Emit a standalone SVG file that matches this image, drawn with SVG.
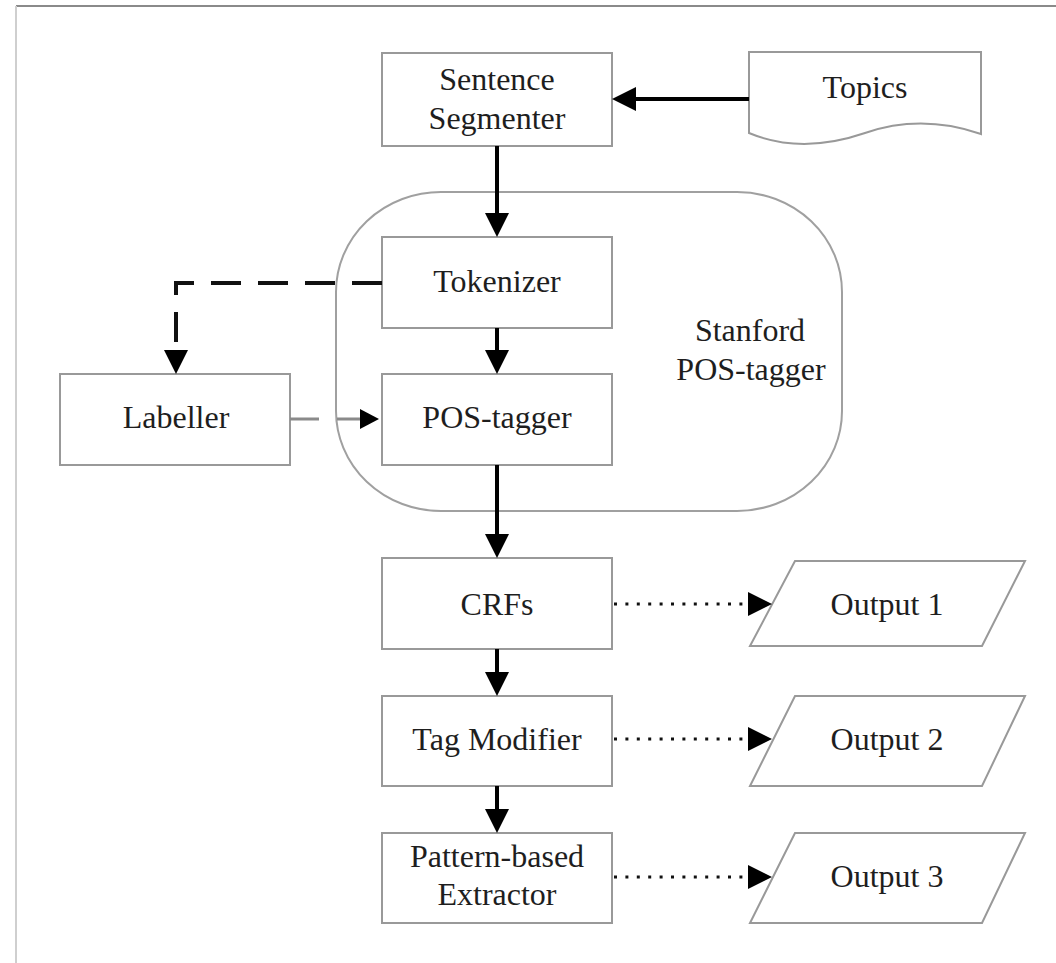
<svg xmlns="http://www.w3.org/2000/svg" width="1056" height="963" viewBox="0 0 1056 963">
<style>
.box{fill:#fff;stroke:#999;stroke-width:2}
.grp{fill:none;stroke:#a0a0a0;stroke-width:2}
.t{font-family:"Liberation Serif","Times New Roman",serif;font-size:32px;fill:#1e1e1e;text-anchor:middle}
.solid{fill:none;stroke:#000;stroke-width:4}
.dash{fill:none;stroke:#111;stroke-width:4;stroke-dasharray:30 17}
.gdash{fill:none;stroke:#8a8a8a;stroke-width:3;stroke-dasharray:29 18}
.dot{fill:none;stroke:#111;stroke-width:3;stroke-dasharray:3 8.4}
</style>
<defs>
<marker id="ah" markerUnits="userSpaceOnUse" markerWidth="26" markerHeight="24" refX="0" refY="12" orient="auto" overflow="visible">
<path d="M0,0 L24,12 L0,24 Z" fill="#000"/>
</marker>
<marker id="ahs" markerUnits="userSpaceOnUse" markerWidth="22" markerHeight="22" refX="0" refY="10" orient="auto" overflow="visible">
<path d="M0,0 L19,10 L0,20 Z" fill="#000"/>
</marker>
</defs>
<rect width="1056" height="963" fill="#fff"/>
<g id="frame">
<line x1="16" y1="6" x2="1056" y2="6" stroke="#8a8a8a" stroke-width="2"/>
<line x1="16" y1="6" x2="16" y2="963" stroke="#cfcfcf" stroke-width="2"/>
</g>
<g id="stanford">
<rect class="grp" x="336" y="192" width="506" height="319" rx="105" ry="100"/>
<text class="t" x="750" y="341">Stanford</text>
<text class="t" x="751" y="380">POS-tagger</text>
</g>
<g id="segmenter">
<rect class="box" x="382" y="53" width="230" height="93"/>
<text class="t" x="497" y="90">Sentence</text>
<text class="t" x="497" y="129">Segmenter</text>
</g>
<g id="topics">
<path class="box" d="M749,52 H981 V134 C940,120 900,121 865,133 C830,145 790,150 749,133 Z"/>
<text class="t" x="865" y="98">Topics</text>
</g>
<g id="tokenizer">
<rect class="box" x="382" y="237" width="230" height="91"/>
<text class="t" x="497" y="292">Tokenizer</text>
</g>
<g id="postagger">
<rect class="box" x="382" y="374" width="230" height="91"/>
<text class="t" x="497" y="428">POS-tagger</text>
</g>
<g id="labeller">
<rect class="box" x="60" y="374" width="230" height="91"/>
<text class="t" x="176" y="428">Labeller</text>
</g>
<g id="crfs">
<rect class="box" x="382" y="558" width="230" height="91"/>
<text class="t" x="497" y="615">CRFs</text>
</g>
<g id="tagmodifier">
<rect class="box" x="382" y="696" width="230" height="90"/>
<text class="t" x="497" y="750">Tag Modifier</text>
</g>
<g id="extractor">
<rect class="box" x="382" y="833" width="230" height="90"/>
<text class="t" x="497" y="867">Pattern-based</text>
<text class="t" x="497" y="905">Extractor</text>
</g>
<g id="output1">
<path class="box" d="M795,561 H1025 L982,646 H750 Z"/>
<text class="t" x="887" y="615">Output 1</text>
</g>
<g id="output2">
<path class="box" d="M795,696 H1025 L982,786 H750 Z"/>
<text class="t" x="887" y="750">Output 2</text>
</g>
<g id="output3">
<path class="box" d="M795,833 H1025 L982,923 H750 Z"/>
<text class="t" x="887" y="887">Output 3</text>
</g>
<g id="connectors">
<path class="solid" d="M749,99 H636" marker-end="url(#ah)"/>
<path class="solid" d="M497,146 V213" marker-end="url(#ah)"/>
<path class="solid" d="M497,328 V350" marker-end="url(#ah)"/>
<path class="solid" d="M497,465 V534" marker-end="url(#ah)"/>
<path class="solid" d="M497,649 V672" marker-end="url(#ah)"/>
<path class="solid" d="M497,786 V809" marker-end="url(#ah)"/>
<path class="dash" d="M382,283 H176 V350" marker-end="url(#ah)"/>
<path class="gdash" d="M290,419 H360" marker-end="url(#ahs)"/>
<path class="dot" d="M614,604 H748" marker-end="url(#ah)"/>
<path class="dot" d="M614,739 H748" marker-end="url(#ah)"/>
<path class="dot" d="M614,877 H748" marker-end="url(#ah)"/>
</g>
</svg>
